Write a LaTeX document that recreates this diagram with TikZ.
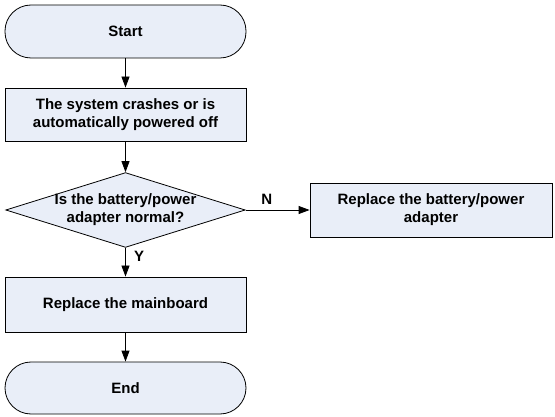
\documentclass[tikz,border=0pt]{standalone}
\usepackage{fontspec}
\setmainfont{Liberation Sans}
\usetikzlibrary{shapes.geometric,arrows.meta}
\definecolor{boxfill}{HTML}{E9EEF8}

\begin{document}
\begin{tikzpicture}[x=1pt,y=-1pt,
                font=\fontsize{15}{18}\selectfont\bfseries,
                terminal/.style={draw, thick, fill=boxfill, rounded corners=26pt, minimum width=241pt, minimum height=53pt, inner sep=0pt},
                process/.style={draw, thick, fill=boxfill, minimum width=241pt, minimum height=53pt, inner sep=0pt, align=center},
                decision/.style={draw, thick, fill=boxfill, diamond, aspect=3.2, inner xsep=-1pt, inner ysep=-0.4pt, align=center},
                flow/.style={thick, -{Triangle[length=11pt,width=8pt]}}]
                \useasboundingbox (0,0) rectangle (555,417);

                \node[terminal] (start) at (125.5,31.5) {Start};
                \node[process] (crash) at (125.5,114.5) {The system crashes or is\\automatically powered off};
                \node[decision] (check) at (125.5,210) {Is the battery/power\\adapter normal?};
                \node[process, minimum width=242pt, minimum height=54pt] (battery) at (431,210) {Replace the battery/power\\adapter};
                \node[process, minimum height=55pt] (mainboard) at (125.5,304.5) {Replace the mainboard};
                \node[terminal, minimum height=52pt] (end) at (125.5,388) {End};

                \draw[flow] (start) -- (crash);
                \draw[flow] (crash) -- (check);
                \draw[flow] (check) -- node[pos=0.33, above, yshift=2pt]{N} (battery);
                \draw[flow] (check) -- node[pos=0.3, right, xshift=5pt]{Y} (mainboard);
                \draw[flow] (mainboard) -- (end);
            \end{tikzpicture}
\end{document}
